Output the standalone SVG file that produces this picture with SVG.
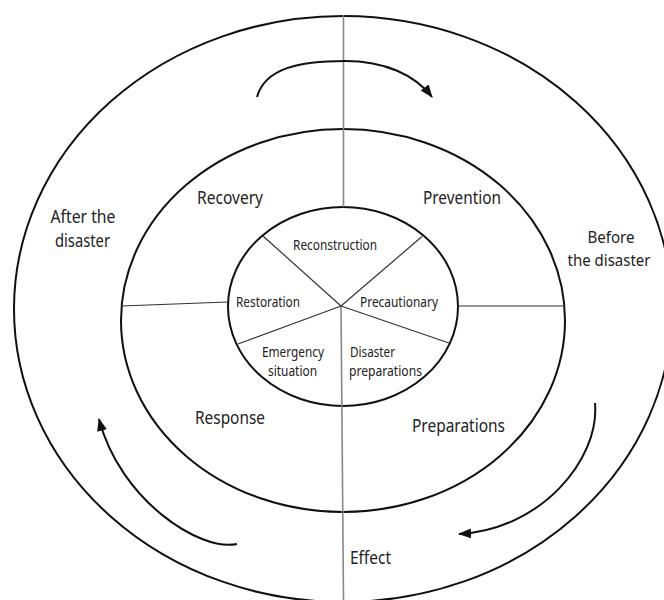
<svg xmlns="http://www.w3.org/2000/svg" width="664" height="600" viewBox="0 0 664 600">
<style>
.ring{fill:none;stroke:#111;stroke-width:2}
.spoke{fill:none;stroke:#333;stroke-width:1.2}
.axis{fill:none;stroke:#888;stroke-width:1.6}
.arr{fill:none;stroke:#111;stroke-width:2}
text{font-family:"Noto Sans","Open Sans",sans-serif;fill:#222;text-anchor:middle}
.big{font-size:18px}
.side{font-size:16.5px}
.small{font-size:15px}
</style>
<defs>
<marker id="ah" markerUnits="userSpaceOnUse" markerWidth="14" markerHeight="12" refX="12" refY="5" orient="auto">
<path d="M0,0 L13,5 L0,10 z" fill="#111"/>
</marker>
</defs>
<rect width="664" height="600" fill="#fff"/>
<g id="outer-ring"><ellipse class="ring" cx="343" cy="309" rx="329" ry="293"/></g>
<g id="middle-ring"><ellipse class="ring" cx="343" cy="320.5" rx="222" ry="191.5"/></g>
<g id="inner-ring"><ellipse class="ring" cx="343" cy="306.5" rx="115" ry="99.5"/></g>
<g id="connectors">
<line class="axis" x1="343.5" y1="15" x2="343.5" y2="207"/>
<line class="axis" x1="341" y1="306" x2="343.5" y2="600"/>
<line class="spoke" x1="121" y1="306" x2="228" y2="302"/>
<line class="spoke" x1="458" y1="306" x2="565" y2="306"/>
<line class="spoke" x1="341" y1="306" x2="263" y2="236"/>
<line class="spoke" x1="341" y1="306" x2="422" y2="236.5"/>
<line class="spoke" x1="341" y1="306" x2="238" y2="344"/>
<line class="spoke" x1="341" y1="306" x2="449" y2="343"/>
<path class="arr" d="M257,97 C265,68 300,61 345,61 C385,61 415,75 432,97" marker-end="url(#ah)"/>
<path class="arr" d="M237,544 C200,552 120,500 99,419" marker-end="url(#ah)"/>
<path class="arr" d="M595,403 C600,460 540,530 459,534" marker-end="url(#ah)"/>
</g>
<g id="label-after"><text class="big" x="83" y="223" textLength="65" lengthAdjust="spacingAndGlyphs">After the</text><text class="big" x="82.5" y="247" textLength="55" lengthAdjust="spacingAndGlyphs">disaster</text></g>
<g id="label-before"><text class="side" x="611" y="243" textLength="47" lengthAdjust="spacingAndGlyphs">Before</text><text class="side" x="609" y="266" textLength="83" lengthAdjust="spacingAndGlyphs">the disaster</text></g>
<g id="label-recovery"><text class="big" x="230" y="204" textLength="66" lengthAdjust="spacingAndGlyphs">Recovery</text></g>
<g id="label-prevention"><text class="big" x="462" y="204" textLength="78" lengthAdjust="spacingAndGlyphs">Prevention</text></g>
<g id="label-response"><text class="big" x="230" y="424" textLength="70" lengthAdjust="spacingAndGlyphs">Response</text></g>
<g id="label-preparations"><text class="big" x="458.5" y="432" textLength="93" lengthAdjust="spacingAndGlyphs">Preparations</text></g>
<g id="label-effect"><text class="big" x="370.5" y="564" textLength="41" lengthAdjust="spacingAndGlyphs">Effect</text></g>
<g id="seg-reconstruction"><text class="small" x="335" y="250" textLength="84" lengthAdjust="spacingAndGlyphs">Reconstruction</text></g>
<g id="seg-restoration"><text class="small" x="268" y="307" textLength="64" lengthAdjust="spacingAndGlyphs">Restoration</text></g>
<g id="seg-precautionary"><text class="small" x="399" y="307" textLength="78" lengthAdjust="spacingAndGlyphs">Precautionary</text></g>
<g id="seg-emergency"><text class="small" x="293" y="357" textLength="62" lengthAdjust="spacingAndGlyphs">Emergency</text><text class="small" x="292.5" y="376" textLength="49" lengthAdjust="spacingAndGlyphs">situation</text></g>
<g id="seg-disaster-prep"><text class="small" x="372.5" y="357" textLength="45" lengthAdjust="spacingAndGlyphs">Disaster</text><text class="small" x="385.5" y="376" textLength="73" lengthAdjust="spacingAndGlyphs">preparations</text></g>
</svg>
